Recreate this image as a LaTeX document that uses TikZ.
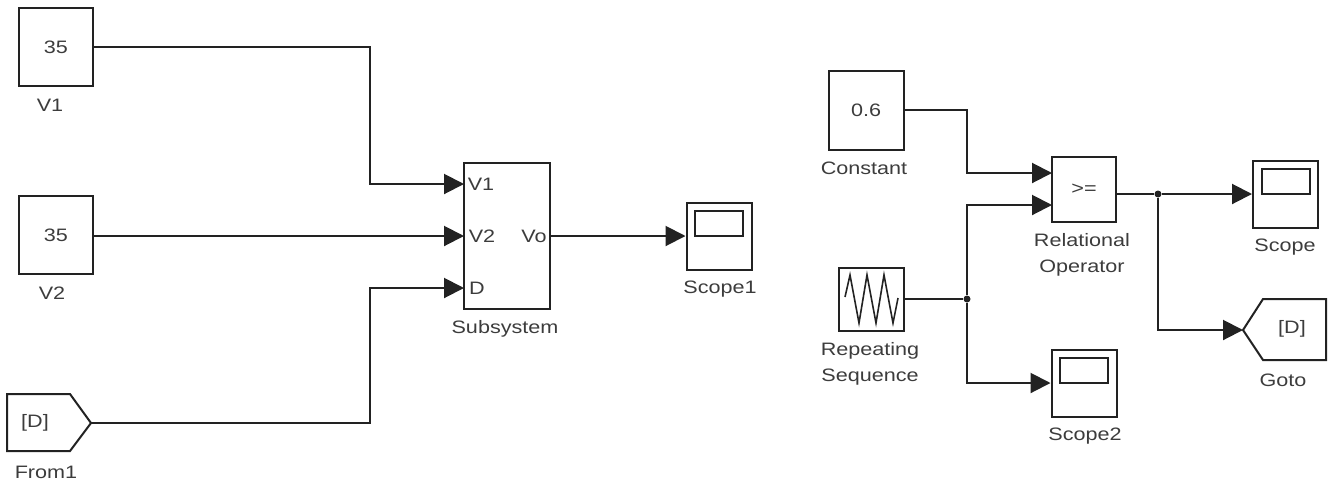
\documentclass[tikz,border=0pt]{standalone}
\usepackage{fontspec}
\setmainfont[FakeStretch=1.2]{Liberation Sans}
\usetikzlibrary{arrows.meta}
\definecolor{ink}{HTML}{222222}
\definecolor{txt}{HTML}{3C3C3C}
\tikzstyle{blk} = [draw=ink, line width=2pt, inner sep=0pt, text=txt]
\tikzstyle{lbl} = [inner sep=0pt, text=txt, align=center]
\tikzstyle{dot} = [circle, fill=ink, inner sep=0pt, minimum size=7pt]
\tikzstyle{sig} = [draw=ink, line width=2pt, -{Triangle[length=20pt,width=20pt]}]
\tikzstyle{wire} = [draw=ink, line width=2pt]
\begin{document}
\begin{tikzpicture}[x=1pt, y=-1pt, font=\fontsize{18}{26}\selectfont]
	\useasboundingbox (0,0) rectangle (1329,483);

		% Constants
		\foreach \xpos/\ypos/\wid/\hei/\lab/\txt in {56/47/74/78/v1/35, 56/235/74/78/v2/35, 866/110/75/79/const/0.6}
		\node[blk, minimum width=\wid, minimum height=\hei] (\lab) at (\xpos,\ypos) {\txt};
		% Subsystem, operator and repeating sequence
		\node[blk, minimum width=86, minimum height=146] (sub) at (507,236) {};
		\node[blk, minimum width=64, minimum height=65] (rel) at (1084,189.5) {>=};
		\node[blk, minimum width=65, minimum height=63] (rep) at (871.5,299.5) {};
		\draw[ink, line width=1.6pt] (845,297) -- (850,275) -- (859,323) -- (867,275) -- (876,323) -- (884,275) -- (893,323) -- (898,298);
		% Scopes
		\foreach \xpos/\ypos/\lab in {719/236/sc1, 1285.5/194/sc, 1084/383/sc2}{
		\node[blk, minimum width=65, minimum height=67] (\lab) at (\xpos,\ypos) {};
		\draw[ink, line width=2pt] (\xpos-24,\ypos-25) rectangle (\xpos+24,\ypos);
		}
		% From and Goto
		\draw[ink, line width=2pt] (7,394) -- (70,394) -- (91,423) -- (70,451) -- (7,451) -- cycle;
		\draw[ink, line width=2pt] (1243,330) -- (1263,299) -- (1326,299) -- (1326,360) -- (1263,360) -- cycle;
		\node[lbl] (fromtxt) at (35,423) {[D]};
		\node[lbl] (gototxt) at (1292,329) {[D]};
		\node[coordinate] (fromtip) at (91,423) {};
		\node[coordinate] (gototip) at (1243,330) {};

		% Port names
		\foreach \xpos/\ypos/\lab/\txt in {481/184/p1/V1, 482/236/p2/V2, 477/288/p3/D, 534/236/p4/Vo}
		\node[lbl] (\lab) at (\xpos,\ypos) {\txt};
		% Block names
		\foreach \xpos/\ypos/\lab/\txt in {50/105/n1/V1, 52/293/n2/V2, 46/472/n3/From1, 505/329/n4/Subsystem, 720/289/n5/Scope1, 864/168/n6/Constant, 870/364/n7/{Repeating\\Sequence}, 1082/255/n8/{Relational\\Operator}, 1285/247/n9/Scope, 1283/380/n10/Goto, 1085/436/n11/Scope2}
		\node[lbl] (\lab) at (\xpos,\ypos) {\txt};

		\node[dot] (j1) at (967,299) {};
		\node[dot] (j2) at (1158,194) {};
		\foreach \xpos/\ypos/\lab in {370/184/i1, 464/184/i2, 464/236/i3, 370/288/i4, 464/288/i5, 967/173/i6, 1052/173/i7, 967/205/i8, 1052/205/i9, 967/383/i10, 1158/330/i11}
		\node[coordinate] (\lab) at (\xpos,\ypos) {};

		\draw[sig] (v1.east) -| (i1) -- (i2);
		\draw[sig] (v2.east |- i3) -- (i3);
		\draw[sig] (fromtip) -| (i4) -- (i5);
		\draw[sig] (sub.east) -- (sc1.west);
		\draw[sig] (const.east) -| (i6) -- (i7);
		\draw[wire] (rep.east |- j1) -- (j1);
		\draw[sig] (j1) -- (i8) -- (i9);
		\draw[sig] (j1) -- (i10) -- (sc2.west |- i10);
		\draw[wire] (rel.east |- j2) -- (j2);
		\draw[sig] (j2) -- (sc.west |- j2);
		\draw[sig] (j2) -- (i11) -- (gototip);
\end{tikzpicture}
\end{document}
